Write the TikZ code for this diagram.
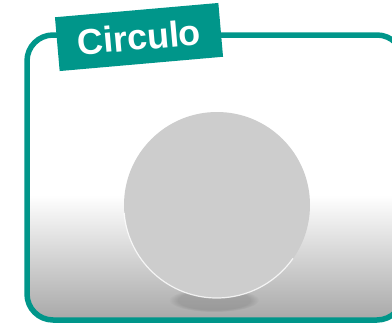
\documentclass[tikz,border=0pt]{standalone}
\usepackage{fontspec}
\setsansfont{Liberation Sans}
\usetikzlibrary{positioning, fadings}
\definecolor{cteal}{HTML}{00968A}
\definecolor{cdisc}{HTML}{CDCDCD}
\definecolor{cfloor}{HTML}{A8A8A8}
\tikzset{
  every picture/.style={font=\sffamily},
  frame/.style={draw=cteal, line width=5.5pt, rounded corners=26pt},
  tag/.style={fill=cteal, text=white, font=\sffamily\bfseries\fontsize{36}{40}\selectfont, minimum width=164pt, minimum height=54pt, inner sep=0pt},
  disc/.style={circle, fill=cdisc, minimum size=186pt, inner sep=0pt},
}

\begin{document}
\begin{tikzpicture}[x=1pt, y=1pt]
  \useasboundingbox (0,0) rectangle (392,-325);
  % backdrop inside the frame
  \begin{scope}
    \clip[rounded corners=26pt] (27,-35) rectangle (403,-320);
    \fill[white] (27,-35) rectangle (403,-320);
    \shade[top color=white, bottom color=cfloor] (27,-195) rectangle (403,-320);
    \fill[black, opacity=0.12, path fading=circle with fuzzy edge 20 percent] (214,-300) ellipse (45 and 12);
  \end{scope}
  \node[disc] (disc) at (217,-205) {};
  \draw[white, line width=1.2pt, opacity=0.8] (disc.185) arc (185:325:93);
  \draw[frame] (27,-35) rectangle (403,-320);
  \node[tag, rotate=5] (tag) at (139,-37) {Circulo};
\end{tikzpicture}
\end{document}
